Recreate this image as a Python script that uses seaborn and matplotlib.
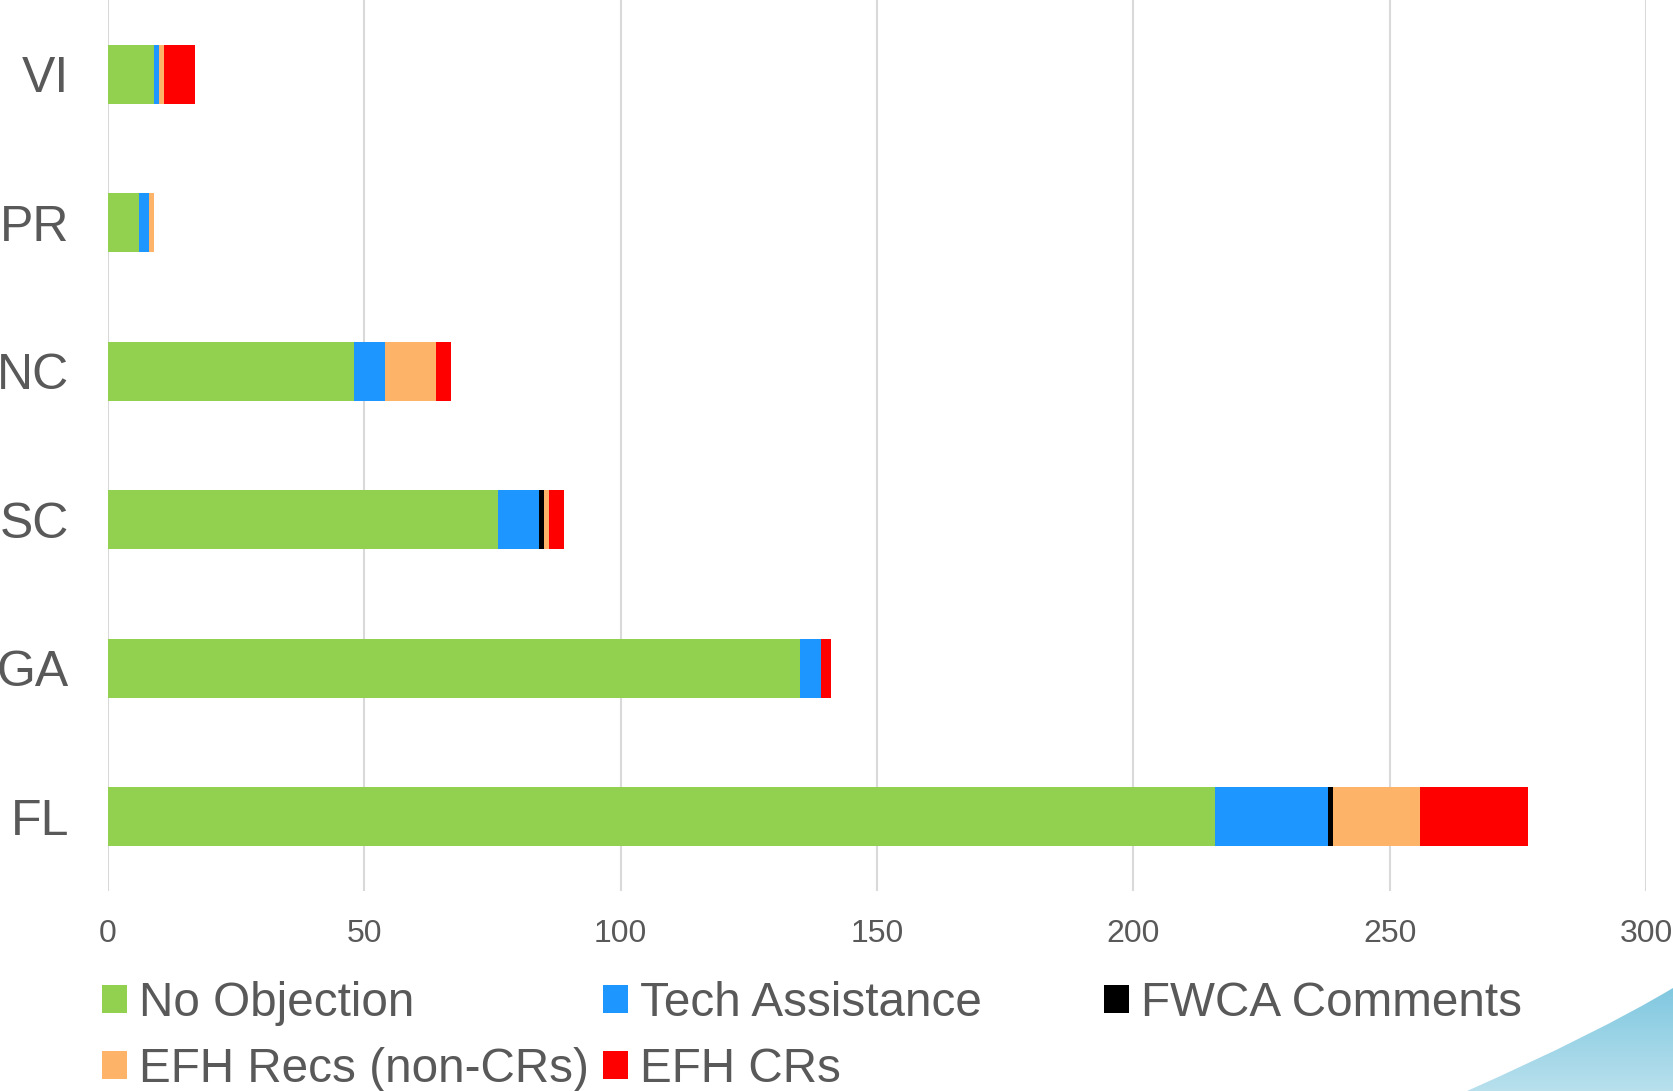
import numpy as np
import pandas as pd
import seaborn as sns
import matplotlib.pyplot as plt
from matplotlib.patches import Patch, PathPatch
from matplotlib.path import Path

sns.set_theme(style="white")
plt.rcParams["font.family"] = ["Liberation Sans", "DejaVu Sans"]

states = ["VI", "PR", "NC", "SC", "GA", "FL"]
no_objection = [9, 6, 48, 76, 135, 216]
tech_assistance = [1, 2, 6, 8, 4, 22]
fwca_comments = [0, 0, 0, 1, 0, 1]
efh_recs = [1, 1, 10, 1, 0, 17]
efh_crs = [6, 0, 3, 3, 2, 21]

series = ["No Objection", "Tech Assistance", "FWCA Comments", "EFH Recs (non-CRs)", "EFH CRs"]
colors = ["#92d050", "#1e96ff", "#000000", "#fdb469", "#ff0000"]
text_col = "#595959"

df = pd.DataFrame({
    "state": states,
    "No Objection": no_objection,
    "Tech Assistance": tech_assistance,
    "FWCA Comments": fwca_comments,
    "EFH Recs (non-CRs)": efh_recs,
    "EFH CRs": efh_crs,
})
cum = df[series].cumsum(axis=1)

fig = plt.figure(figsize=(16.73, 10.91), dpi=100)
ax = fig.add_axes([108 / 1673, 1 - 891 / 1091, (1646 - 108) / 1673, 891 / 1091])

# stacked bars: draw cumulative totals from the outermost segment inwards
for name, col in reversed(list(zip(series, colors))):
    sns.barplot(x=cum[name], y=df["state"], orient="h", color=col,
                width=0.4, linewidth=0, saturation=1, ax=ax)

ax.set_xlim(0, 300)
ax.set_xticks(range(0, 301, 50))
ax.set_xlabel("")
ax.set_ylabel("")
ax.grid(axis="x", color="#d9d9d9", linewidth=1.5)
ax.grid(axis="y", visible=False)
ax.set_axisbelow(True)
for s in ax.spines.values():
    s.set_visible(False)
ax.tick_params(axis="y", length=0, pad=28, labelsize=36, labelcolor=text_col)
ax.tick_params(axis="x", length=0, pad=20, labelsize=23, labelcolor=text_col)

# legend laid out in equal-width columns, row by row
legend_cols = [[0, 3], [1, 4], [2]]
col_x = [102 / 1673, 603 / 1673, 1104 / 1673]
for idxs, x in zip(legend_cols, col_x):
    handles = [Patch(facecolor=colors[i], edgecolor="none") for i in idxs]
    labels = [series[i] for i in idxs]
    leg = fig.legend(handles, labels, loc="upper left", bbox_to_anchor=(x, 1 - 981 / 1091),
                     frameon=False, fontsize=34.3, handlelength=0.53, handleheight=0.53,
                     handletextpad=0.25, borderpad=0, borderaxespad=0, labelspacing=0.44)
    for t in leg.get_texts():
        t.set_color(text_col)

# decorative blue swoosh in the lower right corner
bg = fig.add_axes([0, 0, 1, 1], zorder=-1)
bg.set_xlim(0, 1673)
bg.set_ylim(1091, 0)
bg.axis("off")
verts = [(1467, 1091), (1596, 1034), (1673, 988), (1673, 1091), (1467, 1091)]
codes = [Path.MOVETO, Path.CURVE3, Path.CURVE3, Path.LINETO, Path.CLOSEPOLY]
patch = PathPatch(Path(verts, codes), facecolor="none", edgecolor="none")
bg.add_patch(patch)
grad = np.linspace(0, 1, 256).reshape(-1, 1)
cmap = sns.blend_palette(["#7cc6df", "#b8e0ed"], as_cmap=True)
im = bg.imshow(grad, cmap=cmap, extent=(1450, 1673, 1091, 980), aspect="auto")
im.set_clip_path(patch)

fig.savefig("out.png", dpi=100)
